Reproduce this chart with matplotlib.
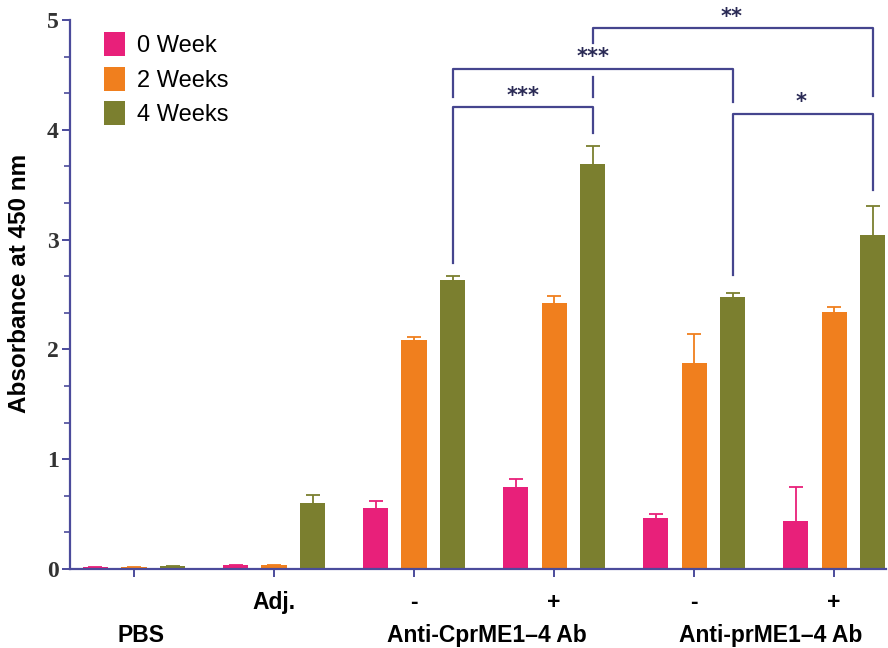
import matplotlib.pyplot as plt
import numpy as np

# grupos del eje x (posiciones 0..5)
tick_labels = ["", "Adj.", "-", "+", "-", "+"]
group_labels = ["PBS", "Anti-CprME1\u20134 Ab", "Anti-prME1\u20134 Ab"]
series = ["0 Week", "2 Weeks", "4 Weeks"]

# absorbancia media y error (solo hacia arriba)
week0 = [0.02, 0.04, 0.555, 0.75, 0.465, 0.44]
week0_err = [0.0, 0.0, 0.065, 0.07, 0.035, 0.31]
week2 = [0.015, 0.04, 2.09, 2.42, 1.88, 2.34]
week2_err = [0.0, 0.0, 0.025, 0.07, 0.26, 0.05]
week4 = [0.025, 0.60, 2.63, 3.69, 2.48, 3.04]
week4_err = [0.0, 0.075, 0.035, 0.16, 0.03, 0.27]

colors = ["#E8207A", "#F07F1E", "#7B7F2F"]
axis_col = "#4B4B9B"
line_col = "#45458E"

x = np.arange(len(tick_labels))
offs = [-0.275, 0.0, 0.275]
width = 0.18

fig = plt.figure(figsize=(8.88, 6.48), dpi=100)
ax = fig.add_axes([70 / 888, 1 - 569 / 648, 816 / 888, 549 / 648])

for vals, errs, off, c, lab in zip([week0, week2, week4],
                                   [week0_err, week2_err, week4_err],
                                   offs, colors, series):
    ax.bar(x + off, vals, width, color=c, label=lab, zorder=2)
    e = np.array(errs)
    eb = ax.errorbar(x + off, vals, yerr=[np.zeros_like(e), e], fmt="none",
                     ecolor=c, elinewidth=1.3, capsize=5, capthick=1.3,
                     zorder=1)
    # ocultar la tapa inferior (error cero)
    eb[1][0].set_visible(False)

ax.set_xlim(-0.457, 5.37)
ax.set_ylim(0, 5)

for s in ["top", "right"]:
    ax.spines[s].set_visible(False)
for s in ["left", "bottom"]:
    ax.spines[s].set_color(axis_col)
    ax.spines[s].set_linewidth(1.6)

ax.set_yticks([0, 1, 2, 3, 4, 5])
ax.set_yticks(np.arange(0, 5, 1 / 3), minor=True)
ax.tick_params(axis="y", which="major", length=6, width=1.4, color=axis_col,
               pad=2)
ax.tick_params(axis="y", which="minor", length=4, width=1.2, color=axis_col)
for t in ax.get_yticklabels():
    t.set_fontfamily("Liberation Serif")
    t.set_fontweight("bold")
    t.set_fontsize(17)
    t.set_color("#333333")

ax.set_xticks(x)
ax.set_xticklabels(tick_labels, fontfamily="Liberation Sans",
                   fontweight="bold", fontsize=16.5)
ax.tick_params(axis="x", length=6, width=1.4, color=axis_col, pad=10)

tr = ax.get_xaxis_transform()
for gx, gl in zip([0.05, 2.52, 4.55], group_labels):
    ax.text(gx, -0.122, gl, transform=tr, ha="center", va="center",
            fontfamily="Liberation Sans", fontweight="bold", fontsize=16.5)

fig.text(20 / 888, 0.562, "Absorbance at 450 nm", rotation=90,
         ha="center", va="center", fontfamily="Liberation Sans",
         fontweight="bold", fontsize=17.5)

leg = ax.legend(loc="upper left", bbox_to_anchor=(0.03, 0.995),
                frameon=False, handlelength=0.9, handleheight=1.2,
                handletextpad=0.5, labelspacing=0.4, borderaxespad=0,
                prop={"family": "Liberation Sans", "size": 17})

# corchetes de significancia
def seg(xs, ys):
    ax.plot(xs, ys, color=line_col, lw=1.6, clip_on=False, zorder=3)

star_kw = dict(ha="center", va="center", color="#2A2A55", fontsize=15,
               fontweight="bold", clip_on=False)

seg([2.275, 2.275, 3.275, 3.275], [2.79, 4.21, 4.21, 3.97])
ax.text(2.78, 4.31, "***", **star_kw)

seg([2.275, 2.275, 4.275, 4.275], [4.30, 4.55, 4.55, 4.25])
ax.text(3.275, 4.66, "***", **star_kw)

seg([3.275, 3.275], [4.48, 4.30])
seg([3.275, 3.275, 5.275, 5.275], [4.79, 4.93, 4.93, 4.31])
ax.text(4.27, 5.03, "**", **star_kw)

seg([4.275, 4.275, 5.275, 5.275], [2.68, 4.14, 4.14, 3.45])
ax.text(4.76, 4.25, "*", **star_kw)

fig.savefig("out.png", dpi=100)
